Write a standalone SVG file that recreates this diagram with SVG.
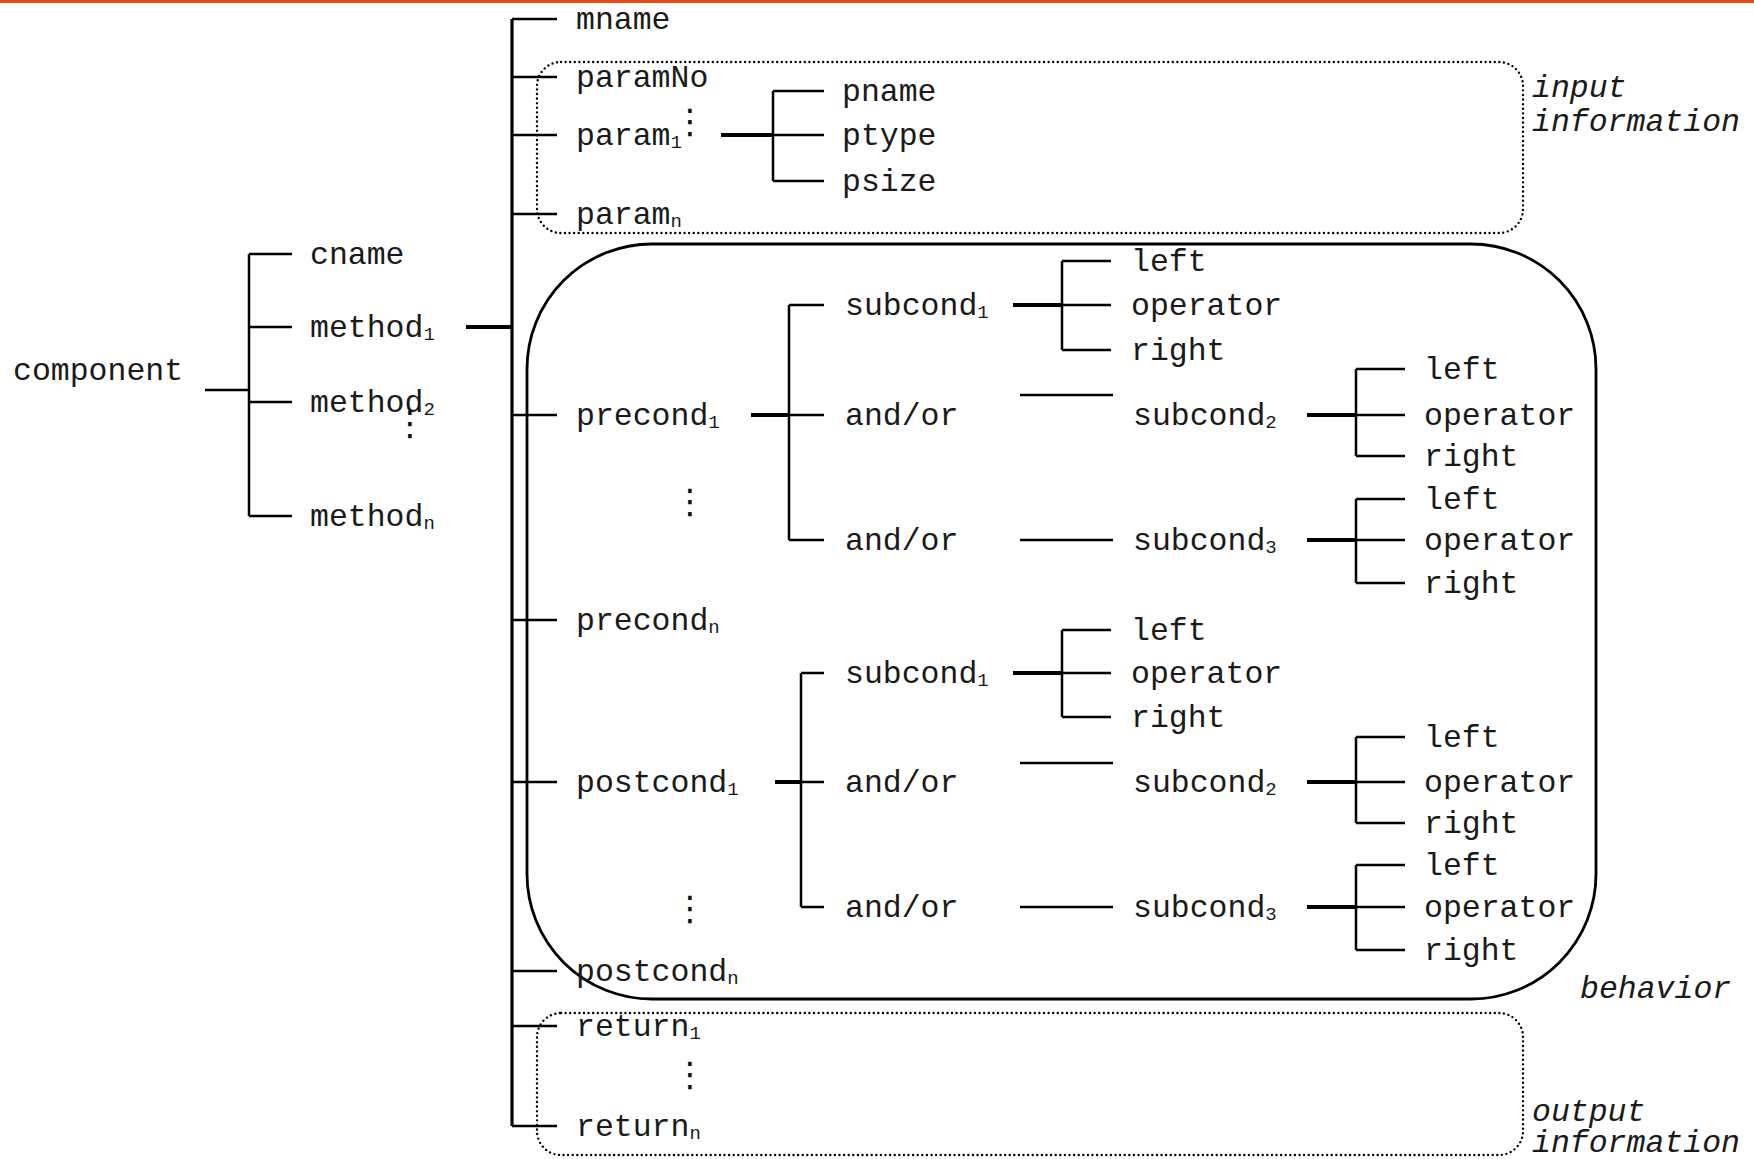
<svg xmlns="http://www.w3.org/2000/svg" width="1754" height="1159" viewBox="0 0 1754 1159">
<style>
.t{font-family:"Liberation Mono","Courier New",monospace;font-size:31.5px;fill:#1a1a1a}
.i{font-family:"Liberation Mono","Courier New",monospace;font-size:31.5px;font-style:italic;fill:#1a1a1a}
.s{font-size:19px}
.e{font-family:"DejaVu Sans",sans-serif;font-size:34px;fill:#111;text-anchor:middle}
.l{stroke:#000;stroke-width:2.5;fill:none}
.k{stroke:#000;stroke-width:4;fill:none}
.m{stroke:#000;stroke-width:3.2;fill:none}
.d{stroke:#000;stroke-width:2.4;fill:none;stroke-dasharray:0 4.6;stroke-linecap:round}
</style>
<rect x="0" y="0" width="1754" height="3" fill="#D9501C"/>
<g id="frames">
<rect id="input-box" class="d" x="537" y="62" width="986" height="171" rx="24"/>
<rect id="behavior-box" x="527" y="244" width="1069" height="755" rx="125" fill="none" stroke="#000" stroke-width="2.8"/>
<rect id="output-box" class="d" x="537" y="1013" width="986" height="142" rx="24"/>
</g>
<g id="connectors">
<path class="l" d="M205 390H249M249 254V516M249 254H292M249 327H292M249 402H292M249 516H292"/>
<path class="k" d="M466 327H512"/>
<path class="m" d="M512 19V1126"/>
<path class="l" d="M512 19H557M512 77H557M512 135H557M512 214H557M512 415H557M512 620H557M512 782H557M512 971H557M512 1026H557M512 1126H557"/>
<path class="k" d="M721 135H773"/>
<path class="l" d="M773 91V181M773 91H824M773 135H824M773 181H824"/>
<path class="k" d="M751 415H789"/>
<path class="l" d="M789 305V540M789 305H824M789 415H824M789 540H824"/>
<path class="k" d="M1013 305H1062"/>
<path class="l" d="M1062 261V350M1062 261H1111M1062 305H1111M1062 350H1111"/>
<path class="l" d="M1020 395H1113M1020 540H1113"/>
<path class="k" d="M1307 415H1356"/>
<path class="l" d="M1356 369V456M1356 369H1405M1356 415H1405M1356 456H1405"/>
<path class="k" d="M1307 540H1356"/>
<path class="l" d="M1356 499V583M1356 499H1405M1356 540H1405M1356 583H1405"/>
<path class="k" d="M775 782H801"/>
<path class="l" d="M801 673V907M801 673H824M801 782H824M801 907H824"/>
<path class="k" d="M1013 673H1062"/>
<path class="l" d="M1062 630V717M1062 630H1111M1062 673H1111M1062 717H1111"/>
<path class="l" d="M1020 763H1113M1020 907H1113"/>
<path class="k" d="M1307 782H1356"/>
<path class="l" d="M1356 737V823M1356 737H1405M1356 782H1405M1356 823H1405"/>
<path class="k" d="M1307 907H1356"/>
<path class="l" d="M1356 865V950M1356 865H1405M1356 907H1405M1356 950H1405"/>
</g>
<g id="component"><text class="t" x="13" y="380">component</text></g>
<g id="cname"><text class="t" x="310" y="264">cname</text></g>
<g id="method1"><text class="t" x="310" y="337">method<tspan class="s" dy="3">1</tspan></text></g>
<g id="method2"><text class="t" x="310" y="412">method<tspan class="s" dy="3">2</tspan></text><text class="e" x="410" y="435">⋮</text></g>
<g id="methodn"><text class="t" x="310" y="526">method<tspan class="s" dy="3">n</tspan></text></g>
<g id="mname"><text class="t" x="576" y="29">mname</text></g>
<g id="paramNo"><text class="t" x="576" y="87">paramNo</text></g>
<g id="param1"><text class="t" x="576" y="145">param<tspan class="s" dy="3">1</tspan></text><text class="e" x="690" y="133">⋮</text></g>
<g id="pname"><text class="t" x="842" y="101">pname</text></g>
<g id="ptype"><text class="t" x="842" y="145">ptype</text></g>
<g id="psize"><text class="t" x="842" y="191">psize</text></g>
<g id="paramn"><text class="t" x="576" y="224">param<tspan class="s" dy="3">n</tspan></text></g>
<g id="input-label"><text class="i" x="1532" y="97">input</text><text class="i" x="1532" y="131">information</text></g>
<g id="precond1"><text class="t" x="576" y="425">precond<tspan class="s" dy="3">1</tspan></text><text class="e" x="690" y="513">⋮</text></g>
<g id="pre-subcond1"><text class="t" x="845" y="315">subcond<tspan class="s" dy="3">1</tspan></text>
<text class="t" x="1131" y="271">left</text><text class="t" x="1131" y="315">operator</text><text class="t" x="1131" y="360">right</text></g>
<g id="pre-andor1"><text class="t" x="845" y="425">and/or</text></g>
<g id="pre-subcond2"><text class="t" x="1133" y="425">subcond<tspan class="s" dy="3">2</tspan></text>
<text class="t" x="1424" y="379">left</text><text class="t" x="1424" y="425">operator</text><text class="t" x="1424" y="466">right</text></g>
<g id="pre-andor2"><text class="t" x="845" y="550">and/or</text></g>
<g id="pre-subcond3"><text class="t" x="1133" y="550">subcond<tspan class="s" dy="3">3</tspan></text>
<text class="t" x="1424" y="509">left</text><text class="t" x="1424" y="550">operator</text><text class="t" x="1424" y="593">right</text></g>
<g id="precondn"><text class="t" x="576" y="630">precond<tspan class="s" dy="3">n</tspan></text></g>
<g id="postcond1"><text class="t" x="576" y="792">postcond<tspan class="s" dy="3">1</tspan></text><text class="e" x="690" y="920">⋮</text></g>
<g id="post-subcond1"><text class="t" x="845" y="683">subcond<tspan class="s" dy="3">1</tspan></text>
<text class="t" x="1131" y="640">left</text><text class="t" x="1131" y="683">operator</text><text class="t" x="1131" y="727">right</text></g>
<g id="post-andor1"><text class="t" x="845" y="792">and/or</text></g>
<g id="post-subcond2"><text class="t" x="1133" y="792">subcond<tspan class="s" dy="3">2</tspan></text>
<text class="t" x="1424" y="747">left</text><text class="t" x="1424" y="792">operator</text><text class="t" x="1424" y="833">right</text></g>
<g id="post-andor2"><text class="t" x="845" y="917">and/or</text></g>
<g id="post-subcond3"><text class="t" x="1133" y="917">subcond<tspan class="s" dy="3">3</tspan></text>
<text class="t" x="1424" y="875">left</text><text class="t" x="1424" y="917">operator</text><text class="t" x="1424" y="960">right</text></g>
<g id="postcondn"><text class="t" x="576" y="981">postcond<tspan class="s" dy="3">n</tspan></text></g>
<g id="behavior-label"><text class="i" x="1580" y="998">behavior</text></g>
<g id="return1"><text class="t" x="576" y="1036">return<tspan class="s" dy="3">1</tspan></text><text class="e" x="690" y="1086">⋮</text></g>
<g id="returnn"><text class="t" x="576" y="1136">return<tspan class="s" dy="3">n</tspan></text></g>
<g id="output-label"><text class="i" x="1532" y="1121">output</text><text class="i" x="1532" y="1152">information</text></g>
</svg>
